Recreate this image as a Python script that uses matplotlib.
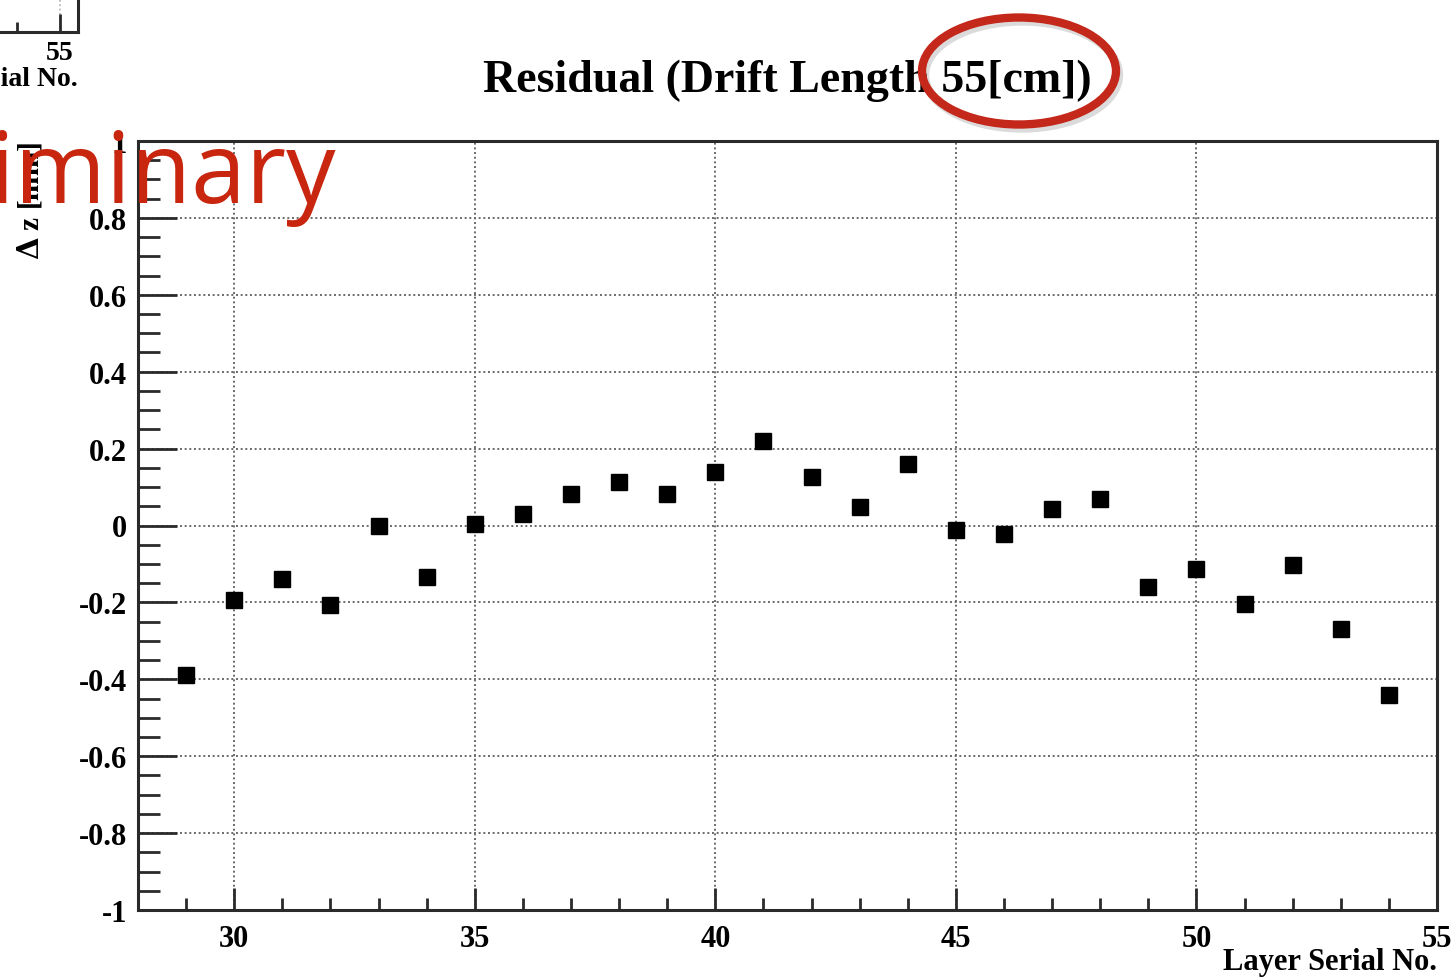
import matplotlib
matplotlib.use("Agg")
import matplotlib.pyplot as plt
from matplotlib.patches import Ellipse
from matplotlib.ticker import MultipleLocator, FuncFormatter

# residual per layer
layers = [29, 30, 31, 32, 33, 34, 35, 36, 37, 38, 39, 40, 41,
          42, 43, 44, 45, 46, 47, 48, 49, 50, 51, 52, 53, 54]
residual = [-0.39, -0.195, -0.14, -0.208, 0.0, -0.135, 0.003, 0.029, 0.083,
            0.114, 0.083, 0.14, 0.221, 0.125, 0.049, 0.161, -0.013, -0.023,
            0.044, 0.068, -0.159, -0.114, -0.203, -0.104, -0.268, -0.442]

title = "Residual (Drift Length 55[cm])"
xlabel = "Layer Serial No."
ylabel = r"$\mathbf{\Delta}$ z [mm]"
stamp = "Preliminary"

plt.rcParams['font.family'] = ['Liberation Serif', 'DejaVu Serif']
plt.rcParams['font.weight'] = 'bold'
plt.rcParams['axes.labelweight'] = 'bold'
plt.rcParams['axes.unicode_minus'] = False
plt.rcParams['mathtext.fontset'] = 'dejavuserif'

W, H = 1455, 978
fig = plt.figure(figsize=(W / 100, H / 100), dpi=100)

def px_box(x0, y0, x1, y1):
    # pixel box (top-left origin) -> figure fraction rect
    return [x0 / W, 1 - y1 / H, (x1 - x0) / W, (y1 - y0) / H]

frame = '#2a2a2a'
grid_kw = dict(color='#6a6a6a', linestyle=(0, (1, 1.4)), linewidth=1.4)

# main plot
ax = fig.add_axes(px_box(138, 142, 1437, 911))
ax.plot(layers, residual, 's', color='black', markersize=11.5, zorder=3)
ax.set_xlim(28, 55)
ax.set_ylim(-1, 1)
ax.xaxis.set_major_locator(MultipleLocator(5))
ax.xaxis.set_minor_locator(MultipleLocator(1))
ax.yaxis.set_major_locator(MultipleLocator(0.2))
ax.yaxis.set_minor_locator(MultipleLocator(0.05))
ax.yaxis.set_major_formatter(FuncFormatter(lambda v, p: '%g' % round(v, 2)))
ax.grid(True, which='major', **grid_kw)
for s in ax.spines.values():
    s.set_linewidth(2.2)
    s.set_color(frame)
ax.tick_params(axis='both', which='both', direction='in', color=frame,
               top=False, right=False, labelsize=22, width=2)
ax.tick_params(axis='x', which='major', length=16, pad=10)
ax.tick_params(axis='x', which='minor', length=8.5)
ax.tick_params(axis='y', which='major', length=28, pad=8)
ax.tick_params(axis='y', which='minor', length=16)
ax.set_title(title, fontsize=33, fontweight='bold', pad=36)
ax.set_xlabel(xlabel, fontsize=22, ha='right', va='top')
ax.xaxis.set_label_coords(1.0, -0.048)
ax.set_ylabel(ylabel, fontsize=21, ha='right', va='center')
ax.yaxis.set_label_coords(-0.083, 1.0)

# clipped corner of a neighbouring plot
ax2 = fig.add_axes(px_box(-26, -200, 78, 33))
ax2.set_xlim(53, 55.42)
ax2.set_ylim(0, 1)
ax2.set_xticks([55])
ax2.set_xticks([54], minor=True)
ax2.set_yticks([])
ax2.grid(True, axis='x', which='major', color='#b0b0b0', linestyle=(0, (1, 1.6)), linewidth=1.2)
for s in ['top', 'left']:
    ax2.spines[s].set_visible(False)
for s in ['bottom', 'right']:
    ax2.spines[s].set_linewidth(2.2)
    ax2.spines[s].set_color(frame)
ax2.tick_params(axis='x', which='both', direction='in', color=frame, width=2,
                labelsize=20, pad=6)
ax2.tick_params(axis='x', which='major', length=13)
ax2.tick_params(axis='x', which='minor', length=7)
ax2.set_xlabel("Layer Serial No.", fontsize=20, ha='right', va='top')
ax2.xaxis.set_label_coords(1.0, -0.145)

# red highlight ring around the drift length
ring_shadow = Ellipse((1022 / W, 1 - 76 / H), 194 / W, 107 / H, transform=fig.transFigure,
                      fill=False, edgecolor='#999999', linewidth=6, alpha=0.35)
ring = Ellipse((1019 / W, 1 - 72 / H), 194 / W, 107 / H, transform=fig.transFigure,
               fill=False, edgecolor='#c4281b', linewidth=6)
fig.add_artist(ring_shadow)
fig.add_artist(ring)

# "Preliminary" stamp, cut by the slide edge
fig.text(336 / W, 1 - 203 / H, stamp, color='#c8260f', fontsize=71,
         family='Open Sans', fontweight='normal', ha='right', va='baseline')

fig.savefig('out.png', dpi=100)
